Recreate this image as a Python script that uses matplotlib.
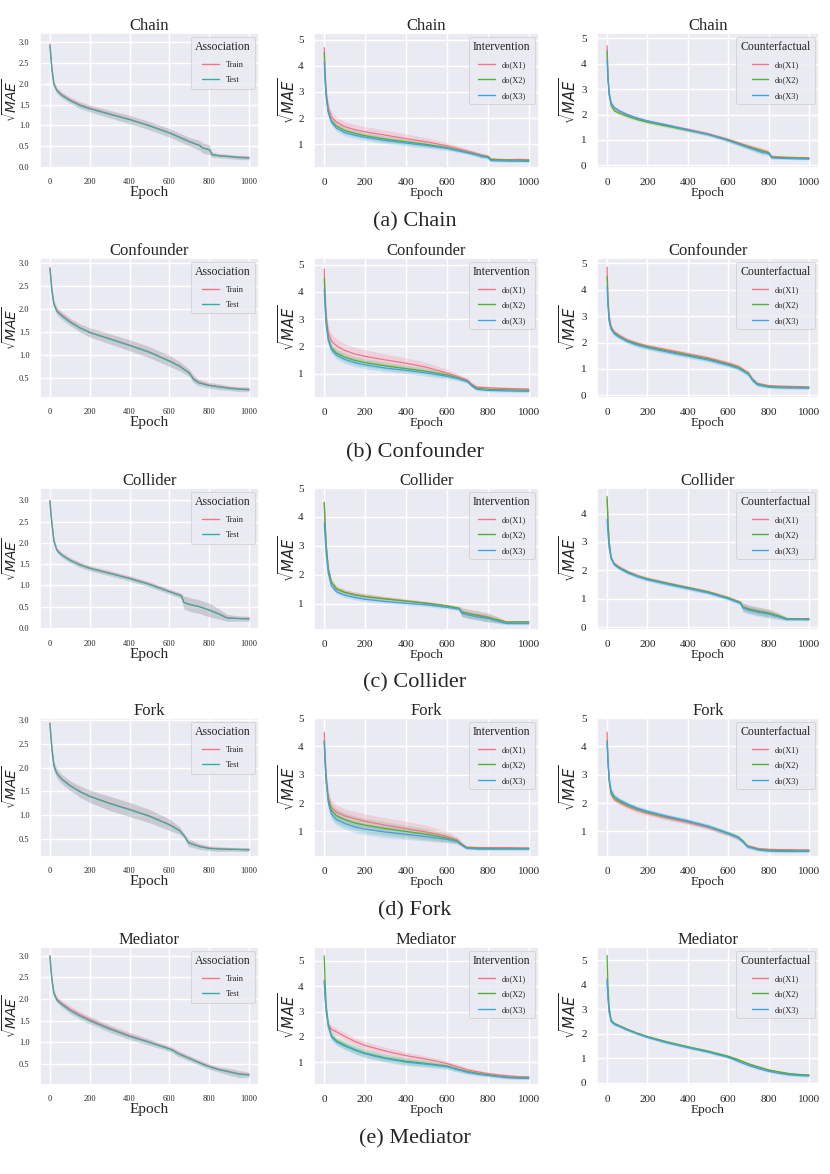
import numpy as np
import matplotlib
matplotlib.use("Agg")
import matplotlib.pyplot as plt
from matplotlib.ticker import MultipleLocator
import seaborn as sns

# ---- data (sqrt MAE vs epoch) ----
# chain
chain_epoch = [0, 4, 10, 20, 35, 60, 100, 150, 200, 300, 400, 500, 600, 700, 755, 765, 800, 815, 850, 900, 950, 1000]
chain_train = [2.95, 2.7, 2.35, 2.0, 1.85, 1.74, 1.62, 1.5, 1.42, 1.28, 1.15, 1.0, 0.83, 0.62, 0.52, 0.47, 0.42, 0.3, 0.28, 0.25, 0.24, 0.23]
chain_test = [2.92, 2.68, 2.33, 1.98, 1.83, 1.72, 1.6, 1.48, 1.4, 1.27, 1.14, 0.99, 0.82, 0.61, 0.51, 0.46, 0.42, 0.3, 0.27, 0.26, 0.23, 0.22]
chain_assoc_band = [0.12, 0.1, 0.08, 0.07, 0.07, 0.07, 0.07, 0.08, 0.08, 0.09, 0.1, 0.1, 0.1, 0.1, 0.12, 0.12, 0.12, 0.06, 0.05, 0.05, 0.05, 0.05]
chain_int = [
    [4.7, 3.8, 3.0, 2.4, 2.05, 1.85, 1.68, 1.56, 1.48, 1.35, 1.22, 1.1, 0.95, 0.75, 0.63, 0.6, 0.55, 0.45, 0.43, 0.42, 0.43, 0.42],
    [4.5, 3.6, 2.85, 2.25, 1.9, 1.7, 1.53, 1.42, 1.33, 1.2, 1.1, 1.0, 0.88, 0.7, 0.6, 0.57, 0.53, 0.42, 0.41, 0.4, 0.4, 0.39],
    [4.15, 3.4, 2.75, 2.2, 1.85, 1.62, 1.45, 1.35, 1.27, 1.15, 1.05, 0.96, 0.85, 0.68, 0.58, 0.55, 0.5, 0.38, 0.37, 0.36, 0.36, 0.35],
]
chain_int_band = [
    [0.3, 0.25, 0.22, 0.2, 0.2, 0.2, 0.2, 0.2, 0.2, 0.2, 0.18, 0.16, 0.12, 0.08, 0.08, 0.08, 0.06, 0.04, 0.04, 0.04, 0.04, 0.04],
    [0.2, 0.15, 0.13, 0.12, 0.12, 0.12, 0.12, 0.12, 0.12, 0.12, 0.11, 0.1, 0.08, 0.06, 0.08, 0.08, 0.06, 0.04, 0.04, 0.04, 0.04, 0.04],
    [0.2, 0.15, 0.13, 0.12, 0.12, 0.12, 0.12, 0.12, 0.12, 0.12, 0.11, 0.1, 0.08, 0.06, 0.08, 0.08, 0.06, 0.04, 0.04, 0.04, 0.04, 0.04],
]
chain_cf = [
    [4.7, 3.6, 2.9, 2.45, 2.25, 2.12, 1.98, 1.85, 1.74, 1.58, 1.42, 1.25, 1.02, 0.76, 0.62, 0.6, 0.52, 0.36, 0.34, 0.32, 0.31, 0.3],
    [4.5, 3.5, 2.8, 2.35, 2.15, 2.05, 1.93, 1.8, 1.7, 1.54, 1.38, 1.22, 1.0, 0.73, 0.6, 0.57, 0.5, 0.33, 0.31, 0.3, 0.29, 0.28],
    [4.15, 3.4, 2.8, 2.45, 2.28, 2.15, 2.0, 1.86, 1.75, 1.58, 1.4, 1.22, 0.98, 0.7, 0.55, 0.52, 0.47, 0.3, 0.28, 0.27, 0.26, 0.25],
]
chain_cf_band = [0.25, 0.15, 0.1, 0.07, 0.06, 0.06, 0.06, 0.06, 0.06, 0.06, 0.06, 0.06, 0.07, 0.08, 0.1, 0.1, 0.08, 0.05, 0.04, 0.04, 0.04, 0.04]

# confounder
conf_epoch = [0, 4, 10, 20, 35, 60, 100, 150, 200, 300, 400, 500, 600, 650, 700, 720, 745, 800, 850, 900, 950, 1000]
conf_train = [2.9, 2.7, 2.4, 2.12, 1.97, 1.87, 1.74, 1.6, 1.5, 1.36, 1.22, 1.07, 0.88, 0.77, 0.62, 0.5, 0.42, 0.35, 0.32, 0.29, 0.27, 0.26]
conf_test = [2.88, 2.68, 2.38, 2.1, 1.95, 1.85, 1.72, 1.59, 1.49, 1.35, 1.21, 1.06, 0.87, 0.76, 0.61, 0.48, 0.4, 0.34, 0.31, 0.28, 0.26, 0.25]
conf_assoc_band = [0.1, 0.08, 0.08, 0.08, 0.08, 0.08, 0.08, 0.09, 0.1, 0.11, 0.12, 0.12, 0.12, 0.1, 0.08, 0.08, 0.07, 0.06, 0.06, 0.05, 0.05, 0.05]
conf_int = [
    [4.85, 3.9, 3.1, 2.5, 2.2, 2.02, 1.85, 1.72, 1.63, 1.5, 1.38, 1.23, 1.02, 0.9, 0.76, 0.62, 0.5, 0.48, 0.46, 0.45, 0.44, 0.43],
    [4.5, 3.7, 2.9, 2.3, 1.95, 1.75, 1.6, 1.48, 1.4, 1.28, 1.18, 1.08, 0.95, 0.85, 0.72, 0.58, 0.46, 0.42, 0.41, 0.4, 0.39, 0.38],
    [4.1, 3.4, 2.75, 2.2, 1.88, 1.68, 1.52, 1.4, 1.32, 1.2, 1.12, 1.02, 0.9, 0.82, 0.7, 0.55, 0.42, 0.38, 0.37, 0.36, 0.35, 0.35],
]
conf_int_band = [
    [0.3, 0.28, 0.26, 0.26, 0.26, 0.26, 0.25, 0.24, 0.24, 0.22, 0.2, 0.18, 0.14, 0.1, 0.07, 0.06, 0.06, 0.05, 0.05, 0.05, 0.05, 0.05],
    [0.2, 0.18, 0.16, 0.15, 0.15, 0.15, 0.15, 0.15, 0.15, 0.14, 0.13, 0.12, 0.1, 0.08, 0.06, 0.06, 0.05, 0.05, 0.05, 0.05, 0.05, 0.05],
    [0.2, 0.18, 0.16, 0.15, 0.15, 0.15, 0.15, 0.15, 0.15, 0.14, 0.13, 0.12, 0.1, 0.08, 0.06, 0.06, 0.05, 0.05, 0.05, 0.05, 0.05, 0.05],
]
conf_cf = [
    [4.85, 3.8, 3.0, 2.6, 2.4, 2.27, 2.1, 1.97, 1.87, 1.72, 1.57, 1.42, 1.22, 1.1, 0.85, 0.62, 0.45, 0.37, 0.35, 0.34, 0.33, 0.32],
    [4.5, 3.6, 2.9, 2.55, 2.37, 2.24, 2.07, 1.94, 1.84, 1.68, 1.53, 1.38, 1.18, 1.06, 0.83, 0.6, 0.43, 0.34, 0.32, 0.31, 0.3, 0.3],
    [4.1, 3.4, 2.8, 2.5, 2.33, 2.2, 2.04, 1.9, 1.8, 1.64, 1.49, 1.34, 1.14, 1.02, 0.8, 0.57, 0.4, 0.31, 0.29, 0.28, 0.28, 0.27],
]
conf_cf_band = [0.25, 0.15, 0.1, 0.08, 0.08, 0.08, 0.08, 0.08, 0.08, 0.08, 0.08, 0.08, 0.08, 0.08, 0.08, 0.08, 0.07, 0.05, 0.05, 0.05, 0.05, 0.05]

# collider
coll_epoch = [0, 4, 10, 20, 35, 60, 100, 150, 200, 300, 400, 500, 600, 660, 672, 700, 750, 800, 850, 890, 950, 1000]
coll_train = [3.0, 2.75, 2.45, 2.05, 1.83, 1.72, 1.6, 1.49, 1.41, 1.29, 1.17, 1.03, 0.86, 0.76, 0.6, 0.56, 0.5, 0.42, 0.33, 0.24, 0.22, 0.22]
coll_test = [2.98, 2.73, 2.43, 2.03, 1.82, 1.71, 1.59, 1.48, 1.4, 1.28, 1.16, 1.02, 0.85, 0.75, 0.6, 0.55, 0.5, 0.42, 0.32, 0.23, 0.22, 0.21]
coll_assoc_band = [0.12, 0.08, 0.07, 0.06, 0.06, 0.06, 0.06, 0.06, 0.06, 0.06, 0.06, 0.06, 0.06, 0.06, 0.15, 0.16, 0.16, 0.16, 0.12, 0.08, 0.06, 0.06]
coll_int = [
    [4.5, 3.8, 3.0, 2.2, 1.75, 1.52, 1.4, 1.32, 1.26, 1.18, 1.1, 1.03, 0.93, 0.85, 0.72, 0.68, 0.62, 0.55, 0.45, 0.38, 0.38, 0.38],
    [4.5, 3.8, 3.0, 2.2, 1.75, 1.52, 1.4, 1.31, 1.25, 1.17, 1.1, 1.02, 0.93, 0.85, 0.72, 0.67, 0.6, 0.53, 0.45, 0.37, 0.38, 0.38],
    [3.8, 3.3, 2.7, 2.05, 1.62, 1.42, 1.3, 1.22, 1.16, 1.08, 1.02, 0.97, 0.88, 0.82, 0.68, 0.62, 0.55, 0.5, 0.4, 0.32, 0.32, 0.32],
]
coll_int_band = [
    [0.25, 0.15, 0.12, 0.1, 0.1, 0.1, 0.1, 0.1, 0.1, 0.08, 0.07, 0.06, 0.06, 0.06, 0.15, 0.15, 0.15, 0.15, 0.1, 0.05, 0.04, 0.04],
    [0.25, 0.15, 0.12, 0.1, 0.1, 0.1, 0.1, 0.1, 0.1, 0.08, 0.07, 0.06, 0.06, 0.06, 0.15, 0.15, 0.15, 0.15, 0.1, 0.05, 0.04, 0.04],
    [0.2, 0.12, 0.1, 0.08, 0.08, 0.08, 0.08, 0.08, 0.08, 0.07, 0.06, 0.06, 0.06, 0.06, 0.12, 0.12, 0.12, 0.12, 0.08, 0.04, 0.04, 0.04],
]
coll_cf = [
    [4.5, 3.8, 3.0, 2.45, 2.25, 2.12, 1.96, 1.82, 1.71, 1.55, 1.4, 1.25, 1.04, 0.88, 0.72, 0.65, 0.57, 0.5, 0.4, 0.3, 0.3, 0.3],
    [4.6, 3.8, 3.0, 2.45, 2.22, 2.1, 1.95, 1.8, 1.7, 1.54, 1.39, 1.24, 1.03, 0.87, 0.71, 0.64, 0.56, 0.5, 0.4, 0.3, 0.29, 0.29],
    [3.8, 3.3, 2.8, 2.4, 2.2, 2.07, 1.92, 1.78, 1.67, 1.51, 1.36, 1.21, 1.0, 0.84, 0.68, 0.6, 0.52, 0.46, 0.36, 0.27, 0.27, 0.26],
]
coll_cf_band = [0.2, 0.12, 0.08, 0.06, 0.06, 0.06, 0.06, 0.06, 0.06, 0.06, 0.06, 0.06, 0.06, 0.06, 0.14, 0.14, 0.14, 0.14, 0.1, 0.05, 0.04, 0.04]

# fork
fork_epoch = [0, 4, 10, 20, 35, 60, 100, 150, 200, 300, 400, 500, 600, 650, 675, 695, 750, 800, 850, 900, 950, 1000]
fork_train = [2.95, 2.7, 2.4, 2.05, 1.88, 1.76, 1.63, 1.5, 1.4, 1.25, 1.12, 0.98, 0.8, 0.68, 0.56, 0.42, 0.34, 0.3, 0.28, 0.28, 0.27, 0.27]
fork_test = [2.93, 2.68, 2.38, 2.03, 1.87, 1.75, 1.62, 1.49, 1.39, 1.24, 1.11, 0.97, 0.79, 0.67, 0.55, 0.41, 0.33, 0.29, 0.28, 0.27, 0.27, 0.26]
fork_assoc_band = [0.1, 0.1, 0.1, 0.1, 0.1, 0.1, 0.1, 0.12, 0.13, 0.15, 0.15, 0.14, 0.12, 0.08, 0.05, 0.08, 0.06, 0.05, 0.05, 0.04, 0.04, 0.04]
fork_int = [
    [4.5, 3.7, 2.9, 2.2, 1.85, 1.68, 1.55, 1.45, 1.36, 1.22, 1.1, 0.98, 0.83, 0.7, 0.55, 0.45, 0.43, 0.43, 0.43, 0.43, 0.42, 0.42],
    [4.2, 3.5, 2.8, 2.1, 1.75, 1.55, 1.42, 1.3, 1.22, 1.1, 1.0, 0.9, 0.77, 0.67, 0.53, 0.43, 0.41, 0.4, 0.4, 0.4, 0.4, 0.4],
    [4.15, 3.4, 2.7, 2.0, 1.62, 1.42, 1.28, 1.16, 1.08, 0.98, 0.9, 0.82, 0.72, 0.64, 0.5, 0.41, 0.38, 0.38, 0.38, 0.38, 0.38, 0.38],
]
fork_int_band = [
    [0.3, 0.28, 0.26, 0.26, 0.26, 0.26, 0.26, 0.26, 0.26, 0.26, 0.26, 0.24, 0.18, 0.12, 0.06, 0.05, 0.05, 0.05, 0.05, 0.05, 0.05, 0.05],
    [0.25, 0.25, 0.25, 0.25, 0.25, 0.25, 0.25, 0.25, 0.25, 0.24, 0.22, 0.2, 0.15, 0.1, 0.06, 0.05, 0.05, 0.05, 0.05, 0.05, 0.05, 0.05],
    [0.2, 0.2, 0.2, 0.2, 0.2, 0.2, 0.2, 0.2, 0.2, 0.2, 0.18, 0.16, 0.12, 0.08, 0.05, 0.04, 0.04, 0.04, 0.04, 0.04, 0.04, 0.04],
]
fork_cf = [
    [4.5, 3.6, 2.8, 2.3, 2.12, 2.02, 1.88, 1.74, 1.64, 1.47, 1.32, 1.15, 0.92, 0.78, 0.64, 0.5, 0.4, 0.37, 0.36, 0.36, 0.35, 0.35],
    [4.2, 3.5, 2.8, 2.35, 2.18, 2.07, 1.93, 1.79, 1.68, 1.51, 1.36, 1.18, 0.94, 0.8, 0.65, 0.48, 0.37, 0.34, 0.33, 0.32, 0.32, 0.32],
    [4.15, 3.5, 2.9, 2.45, 2.25, 2.12, 1.97, 1.82, 1.71, 1.53, 1.37, 1.18, 0.93, 0.78, 0.62, 0.46, 0.35, 0.31, 0.3, 0.3, 0.3, 0.3],
]
fork_cf_band = [0.25, 0.15, 0.1, 0.08, 0.08, 0.08, 0.08, 0.08, 0.08, 0.08, 0.08, 0.08, 0.08, 0.08, 0.07, 0.06, 0.05, 0.05, 0.05, 0.05, 0.05, 0.05]

# mediator
med_epoch = [0, 4, 10, 20, 35, 60, 100, 150, 200, 300, 400, 500, 600, 620, 640, 700, 750, 800, 850, 900, 950, 1000]
med_train = [3.0, 2.75, 2.45, 2.15, 2.0, 1.9, 1.77, 1.64, 1.53, 1.33, 1.16, 1.01, 0.86, 0.82, 0.76, 0.64, 0.54, 0.45, 0.38, 0.33, 0.28, 0.26]
med_test = [2.98, 2.73, 2.43, 2.12, 1.97, 1.87, 1.74, 1.61, 1.5, 1.31, 1.14, 1.0, 0.85, 0.81, 0.75, 0.63, 0.53, 0.44, 0.37, 0.32, 0.27, 0.25]
med_assoc_band = [0.08, 0.07, 0.06, 0.06, 0.06, 0.07, 0.08, 0.08, 0.08, 0.08, 0.08, 0.07, 0.06, 0.06, 0.07, 0.06, 0.06, 0.06, 0.06, 0.08, 0.08, 0.06]
med_int = [
    [4.25, 3.6, 3.0, 2.5, 2.3, 2.2, 2.02, 1.82, 1.66, 1.44, 1.26, 1.12, 0.95, 0.9, 0.85, 0.7, 0.62, 0.55, 0.5, 0.46, 0.43, 0.42],
    [5.2, 4.2, 3.2, 2.5, 2.05, 1.85, 1.68, 1.5, 1.36, 1.17, 1.04, 0.95, 0.85, 0.8, 0.75, 0.63, 0.56, 0.5, 0.45, 0.41, 0.39, 0.38],
    [4.2, 3.6, 3.0, 2.4, 2.0, 1.8, 1.64, 1.47, 1.33, 1.14, 1.0, 0.92, 0.82, 0.78, 0.73, 0.6, 0.53, 0.48, 0.43, 0.39, 0.37, 0.36],
]
med_int_band = [
    [0.15, 0.12, 0.12, 0.12, 0.14, 0.15, 0.15, 0.15, 0.15, 0.15, 0.14, 0.12, 0.1, 0.1, 0.1, 0.08, 0.07, 0.06, 0.06, 0.06, 0.05, 0.05],
    [0.2, 0.15, 0.12, 0.12, 0.13, 0.14, 0.15, 0.15, 0.15, 0.14, 0.13, 0.12, 0.1, 0.1, 0.1, 0.08, 0.07, 0.06, 0.06, 0.06, 0.05, 0.05],
    [0.15, 0.12, 0.12, 0.12, 0.13, 0.14, 0.15, 0.15, 0.15, 0.14, 0.13, 0.12, 0.1, 0.1, 0.1, 0.08, 0.07, 0.06, 0.06, 0.06, 0.05, 0.05],
]
med_cf = [
    [4.25, 3.5, 2.9, 2.55, 2.42, 2.33, 2.18, 2.02, 1.88, 1.65, 1.45, 1.27, 1.06, 1.0, 0.95, 0.75, 0.62, 0.5, 0.42, 0.36, 0.32, 0.3],
    [5.2, 4.0, 3.1, 2.55, 2.42, 2.33, 2.18, 2.02, 1.88, 1.66, 1.47, 1.29, 1.08, 1.02, 0.97, 0.77, 0.64, 0.52, 0.44, 0.37, 0.33, 0.31],
    [4.2, 3.5, 2.9, 2.5, 2.38, 2.3, 2.15, 1.99, 1.85, 1.62, 1.43, 1.25, 1.03, 0.97, 0.9, 0.7, 0.57, 0.46, 0.38, 0.32, 0.29, 0.27],
]
med_cf_band = [0.2, 0.12, 0.08, 0.05, 0.05, 0.05, 0.05, 0.05, 0.05, 0.05, 0.05, 0.05, 0.05, 0.05, 0.05, 0.05, 0.05, 0.05, 0.05, 0.05, 0.05, 0.05]

structures = ["Chain", "Confounder", "Collider", "Fork", "Mediator"]
captions = ["(a) Chain", "(b) Confounder", "(c) Collider", "(d) Fork", "(e) Mediator"]
assoc_labels = ["Train", "Test"]
do_labels = ["do(X1)", "do(X2)", "do(X3)"]

rows = [
    (chain_epoch, [chain_train, chain_test], chain_assoc_band, chain_int, chain_int_band, chain_cf, chain_cf_band),
    (conf_epoch, [conf_train, conf_test], conf_assoc_band, conf_int, conf_int_band, conf_cf, conf_cf_band),
    (coll_epoch, [coll_train, coll_test], coll_assoc_band, coll_int, coll_int_band, coll_cf, coll_cf_band),
    (fork_epoch, [fork_train, fork_test], fork_assoc_band, fork_int, fork_int_band, fork_cf, fork_cf_band),
    (med_epoch, [med_train, med_test], med_assoc_band, med_int, med_int_band, med_cf, med_cf_band),
]

# ---- layout (pixels) ----
W, H = 830, 1174
row_box = [(33, 168), (258, 398), (488, 630), (718, 857), (947, 1085)]
col_box = [(40, 259), (314, 539), (597, 819)]
ylab_x = [20, 298, 579]   # right edge of the rotated y label, px
caption_y = [222, 453, 683, 911, 1139]
ylims = [
    [(-0.02, 3.22), (0.1, 5.25), (-0.1, 5.2)],
    [(0.07, 3.11), (0.1, 5.25), (-0.1, 5.2)],
    [(-0.05, 3.29), (0.1, 5.0), (-0.1, 4.9)],
    [(0.11, 3.05), (0.1, 5.0), (0.1, 5.0)],
    [(0.02, 3.2), (0.1, 5.55), (-0.1, 5.55)],
]

sns.set_theme(style="darkgrid")
plt.rcParams["font.family"] = ["Liberation Serif", "DejaVu Serif"]
plt.rcParams["mathtext.fontset"] = "dejavusans"

fig = plt.figure(figsize=(W / 100, H / 100), dpi=100)
pal2 = sns.color_palette("husl", 2)
pal3 = sns.color_palette("husl", 3)


def add_ax(c, r):
    l, rt = col_box[c]
    t, b = row_box[r]
    return fig.add_axes([l / W, 1 - b / H, (rt - l) / W, (b - t) / H])


for r, (ep, assoc, aband, ints, iband, cfs, cband) in enumerate(rows):
    ep = np.array(ep)
    panels = [
        ("Association", assoc_labels, pal2, assoc, [aband, aband]),
        ("Intervention", do_labels, pal3, ints, iband),
        ("Counterfactual", do_labels, pal3, cfs, [cband, cband, cband]),
    ]
    for c, (legtitle, labels, pal, series, bands) in enumerate(panels):
        ax = add_ax(c, r)
        for lab, col, y, bw in zip(labels, pal, series, bands):
            y = np.array(y)
            bw = np.array(bw)
            ax.plot(ep, y, color=col, lw=0.9, label=lab)
            ax.fill_between(ep, y - bw, y + bw, color=col, alpha=0.2, lw=0)
        ax.set_xlim(-50, 1050)
        ax.set_ylim(*ylims[r][c])
        ax.xaxis.set_major_locator(MultipleLocator(200))
        ax.yaxis.set_major_locator(MultipleLocator(0.5 if c == 0 else 1))
        tfs = 6 if c == 0 else 8
        ax.tick_params(axis="both", labelsize=tfs, pad=1.5)
        ax.set_title(structures[r], fontsize=12, pad=2)
        ax.set_xlabel("Epoch", fontsize=11 if c == 0 else 9.5, labelpad=0)
        ax.set_ylabel(r"$\sqrt{MAE}$", fontsize=10 if c == 0 else 10.5)
        l, rt = col_box[c]
        ax.yaxis.set_label_coords((ylab_x[c] - l) / (rt - l), 0.5)
        leg = ax.legend(title=legtitle, loc="upper right", fontsize=6,
                        title_fontsize=8.5, frameon=True, labelspacing=0.9,
                        handlelength=2.0, borderpad=0.5)
        leg.get_frame().set_linewidth(0.6)
        for h in leg.get_lines():
            h.set_linewidth(1.0)
    fig.text(0.5, 1 - caption_y[r] / H, captions[r], ha="center", va="center", fontsize=16)

fig.savefig("out.png", dpi=100)
